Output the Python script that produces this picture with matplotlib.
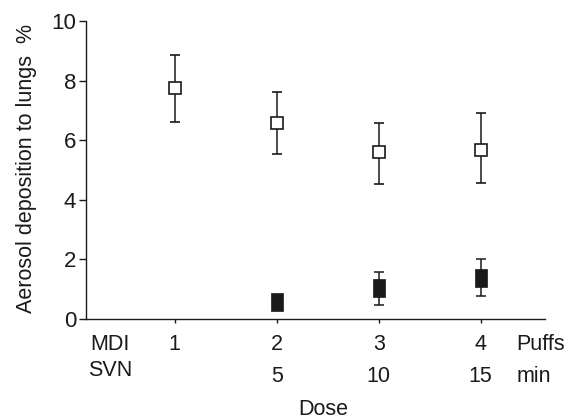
import matplotlib
matplotlib.use("Agg")
import matplotlib.pyplot as plt
from matplotlib.path import Path

plt.rcParams['font.family'] = ['Liberation Sans', 'DejaVu Sans']

# Data
mdi_x = [1, 2, 3, 4]
mdi_mean = [7.74, 6.56, 5.59, 5.66]
mdi_lo = [6.60, 5.52, 4.52, 4.55]
mdi_hi = [8.86, 7.60, 6.56, 6.90]

svn_x = [2, 3, 4]
svn_mean = [0.58, 1.02, 1.38]
svn_lo = [0.58, 0.46, 0.77]
svn_hi = [0.58, 1.56, 2.01]

puff_labels = ['1', '2', '3', '4']
min_labels = ['', '5', '10', '15']

fig = plt.figure(figsize=(5.73, 4.19), dpi=100)
ax = fig.add_axes([0.150, 0.239, 0.801, 0.711])

ink = '#1a1a1a'
lw = 1.1
ax.errorbar(mdi_x, mdi_mean,
            yerr=[[m - l for m, l in zip(mdi_mean, mdi_lo)],
                  [h - m for m, h in zip(mdi_mean, mdi_hi)]],
            fmt='s', mfc='white', mec=ink, mew=1.2, ms=8,
            ecolor=ink, elinewidth=lw, capsize=3.3, capthick=lw, zorder=3)

rect = Path([(-0.33, -0.5), (0.33, -0.5), (0.33, 0.5), (-0.33, 0.5), (-0.33, -0.5)],
            [Path.MOVETO, Path.LINETO, Path.LINETO, Path.LINETO, Path.CLOSEPOLY])
ax.errorbar(svn_x, svn_mean,
            yerr=[[m - l for m, l in zip(svn_mean, svn_lo)],
                  [h - m for m, h in zip(svn_mean, svn_hi)]],
            fmt='none', ecolor=ink, elinewidth=lw, capsize=3.3, capthick=lw, zorder=2)
ax.plot(svn_x, svn_mean, linestyle='none', marker=rect, ms=12.5,
        mfc=ink, mec=ink, mew=0.5, zorder=3)

ax.set_xlim(0.13, 4.63)
ax.set_ylim(0, 10)
ax.set_yticks([0, 2, 4, 6, 8, 10])
ax.set_xticks(mdi_x)
ax.set_xticklabels([])
for s in ['top', 'right']:
    ax.spines[s].set_visible(False)
for s in ['left', 'bottom']:
    ax.spines[s].set_linewidth(1.0)
    ax.spines[s].set_color(ink)
ax.tick_params(axis='y', direction='out', length=5, width=1.0, labelsize=16, pad=2, colors=ink)
ax.tick_params(axis='x', direction='out', length=3, width=1.0, colors=ink)

tr = ax.get_xaxis_transform()
fs = 15.5
for x, lab in zip(mdi_x, puff_labels):
    ax.text(x, -0.085, lab, transform=tr, ha='center', va='center', fontsize=fs, color=ink)
for x, lab in zip(mdi_x, min_labels):
    if lab:
        ax.text(x, -0.192, lab, transform=tr, ha='center', va='center', fontsize=fs, color=ink)
ax.text(0.052, -0.085, 'MDI', transform=ax.transAxes, ha='center', va='center', fontsize=fs, color=ink)
ax.text(0.052, -0.175, 'SVN', transform=ax.transAxes, ha='center', va='center', fontsize=fs, color=ink)
ax.text(4.35, -0.085, 'Puffs', transform=tr, ha='left', va='center', fontsize=fs, color=ink)
ax.text(4.35, -0.192, 'min', transform=tr, ha='left', va='center', fontsize=fs, color=ink)
ax.text(0.516, -0.305, 'Dose', transform=ax.transAxes, ha='center', va='center', fontsize=fs, color=ink)

ax.set_ylabel('Aerosol deposition to lungs  %', fontsize=15.5, color=ink)
ax.yaxis.set_label_coords(-0.107, 0.505)

fig.savefig('out.png', dpi=100)
